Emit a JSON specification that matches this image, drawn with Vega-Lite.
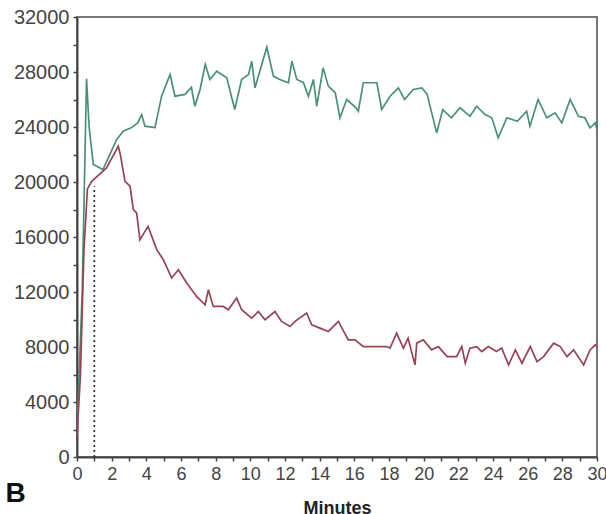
{
  "$schema": "https://vega.github.io/schema/vega-lite/v6.json",
  "width": 520,
  "height": 440,
  "autosize": "none",
  "padding": {"left": 77, "top": 17, "right": 9, "bottom": 57},
  "background": "white",
  "config": {
    "view": {"stroke": "#777", "strokeWidth": 2},
    "font": "Liberation Sans",
    "axis": {"grid": false, "domainColor": "#444", "domainWidth": 2, "tickColor": "#444", "tickWidth": 1.5, "tickSize": 4, "labelColor": "#444", "labelFont": "Liberation Sans", "labelOverlap": false}
  },
  "title": {"text": "B", "orient": "bottom", "anchor": "start", "frame": "bounds", "fontSize": 28, "fontWeight": "bold", "color": "#111", "offset": -37, "dx": -8},
  "datasets": {
    "series": [
      {"t": 0, "v": 1800, "s": "green"}, {"t": 0.3, "v": 12000, "s": "green"}, {"t": 0.55, "v": 27500, "s": "green"}, {"t": 0.7, "v": 24000, "s": "green"}, {"t": 0.94, "v": 21270, "s": "green"}, {"t": 1.5, "v": 20900, "s": "green"}, {"t": 2.29, "v": 23090, "s": "green"}, {"t": 2.67, "v": 23700, "s": "green"}, {"t": 3.15, "v": 23960, "s": "green"}, {"t": 3.5, "v": 24300, "s": "green"}, {"t": 3.73, "v": 24900, "s": "green"}, {"t": 3.92, "v": 24060, "s": "green"}, {"t": 4.5, "v": 23960, "s": "green"}, {"t": 4.88, "v": 26240, "s": "green"}, {"t": 5.37, "v": 27820, "s": "green"}, {"t": 5.65, "v": 26240, "s": "green"}, {"t": 6.23, "v": 26370, "s": "green"}, {"t": 6.6, "v": 26880, "s": "green"}, {"t": 6.8, "v": 25510, "s": "green"}, {"t": 7.1, "v": 26730, "s": "green"}, {"t": 7.4, "v": 28550, "s": "green"}, {"t": 7.67, "v": 27460, "s": "green"}, {"t": 8.06, "v": 28060, "s": "green"}, {"t": 8.64, "v": 27580, "s": "green"}, {"t": 9.1, "v": 25270, "s": "green"}, {"t": 9.5, "v": 27460, "s": "green"}, {"t": 9.9, "v": 27820, "s": "green"}, {"t": 10.08, "v": 28790, "s": "green"}, {"t": 10.27, "v": 26850, "s": "green"}, {"t": 10.95, "v": 29800, "s": "green"}, {"t": 11.33, "v": 27700, "s": "green"}, {"t": 11.7, "v": 27460, "s": "green"}, {"t": 12.2, "v": 27220, "s": "green"}, {"t": 12.4, "v": 28790, "s": "green"}, {"t": 12.68, "v": 27460, "s": "green"}, {"t": 13.06, "v": 27240, "s": "green"}, {"t": 13.35, "v": 26240, "s": "green"}, {"t": 13.64, "v": 27460, "s": "green"}, {"t": 13.83, "v": 25510, "s": "green"}, {"t": 14.2, "v": 28300, "s": "green"}, {"t": 14.5, "v": 26970, "s": "green"}, {"t": 14.9, "v": 26490, "s": "green"}, {"t": 15.17, "v": 24670, "s": "green"}, {"t": 15.56, "v": 26000, "s": "green"}, {"t": 16.1, "v": 25400, "s": "green"}, {"t": 16.23, "v": 25150, "s": "green"}, {"t": 16.52, "v": 27220, "s": "green"}, {"t": 17.3, "v": 27220, "s": "green"}, {"t": 17.58, "v": 25270, "s": "green"}, {"t": 18.06, "v": 26240, "s": "green"}, {"t": 18.54, "v": 26850, "s": "green"}, {"t": 18.9, "v": 26000, "s": "green"}, {"t": 19.4, "v": 26730, "s": "green"}, {"t": 19.9, "v": 26850, "s": "green"}, {"t": 20.2, "v": 26370, "s": "green"}, {"t": 20.75, "v": 23570, "s": "green"}, {"t": 21.1, "v": 25270, "s": "green"}, {"t": 21.6, "v": 24670, "s": "green"}, {"t": 22.1, "v": 25400, "s": "green"}, {"t": 22.67, "v": 24780, "s": "green"}, {"t": 23.06, "v": 25510, "s": "green"}, {"t": 23.54, "v": 24910, "s": "green"}, {"t": 23.93, "v": 24670, "s": "green"}, {"t": 24.3, "v": 23210, "s": "green"}, {"t": 24.8, "v": 24670, "s": "green"}, {"t": 25.4, "v": 24420, "s": "green"}, {"t": 25.94, "v": 25150, "s": "green"}, {"t": 26.13, "v": 24060, "s": "green"}, {"t": 26.6, "v": 26000, "s": "green"}, {"t": 27.1, "v": 24670, "s": "green"}, {"t": 27.58, "v": 25030, "s": "green"}, {"t": 27.97, "v": 24300, "s": "green"}, {"t": 28.45, "v": 26000, "s": "green"}, {"t": 28.93, "v": 24780, "s": "green"}, {"t": 29.3, "v": 24670, "s": "green"}, {"t": 29.6, "v": 23940, "s": "green"}, {"t": 29.9, "v": 24300, "s": "green"}, {"t": 30, "v": 23800, "s": "green"},
      {"t": 0, "v": 1500, "s": "red"}, {"t": 0.2, "v": 6000, "s": "red"}, {"t": 0.4, "v": 15000, "s": "red"}, {"t": 0.6, "v": 19500, "s": "red"}, {"t": 0.85, "v": 20050, "s": "red"}, {"t": 1.7, "v": 21020, "s": "red"}, {"t": 2.38, "v": 22600, "s": "red"}, {"t": 2.5, "v": 22000, "s": "red"}, {"t": 2.77, "v": 20050, "s": "red"}, {"t": 3.06, "v": 19690, "s": "red"}, {"t": 3.25, "v": 17990, "s": "red"}, {"t": 3.44, "v": 17750, "s": "red"}, {"t": 3.63, "v": 15800, "s": "red"}, {"t": 4.1, "v": 16770, "s": "red"}, {"t": 4.6, "v": 15080, "s": "red"}, {"t": 4.98, "v": 14350, "s": "red"}, {"t": 5.46, "v": 13020, "s": "red"}, {"t": 5.85, "v": 13620, "s": "red"}, {"t": 6.33, "v": 12650, "s": "red"}, {"t": 6.9, "v": 11680, "s": "red"}, {"t": 7.39, "v": 11070, "s": "red"}, {"t": 7.58, "v": 12160, "s": "red"}, {"t": 7.86, "v": 10950, "s": "red"}, {"t": 8.44, "v": 10950, "s": "red"}, {"t": 8.73, "v": 10710, "s": "red"}, {"t": 9.21, "v": 11560, "s": "red"}, {"t": 9.5, "v": 10710, "s": "red"}, {"t": 10.08, "v": 10100, "s": "red"}, {"t": 10.46, "v": 10580, "s": "red"}, {"t": 10.85, "v": 9980, "s": "red"}, {"t": 11.42, "v": 10580, "s": "red"}, {"t": 11.8, "v": 9860, "s": "red"}, {"t": 12.29, "v": 9490, "s": "red"}, {"t": 12.58, "v": 9860, "s": "red"}, {"t": 13.25, "v": 10470, "s": "red"}, {"t": 13.54, "v": 9610, "s": "red"}, {"t": 14.02, "v": 9370, "s": "red"}, {"t": 14.5, "v": 9130, "s": "red"}, {"t": 15.08, "v": 9860, "s": "red"}, {"t": 15.65, "v": 8520, "s": "red"}, {"t": 16.04, "v": 8520, "s": "red"}, {"t": 16.52, "v": 8030, "s": "red"}, {"t": 17.87, "v": 8030, "s": "red"}, {"t": 18.06, "v": 7920, "s": "red"}, {"t": 18.44, "v": 9010, "s": "red"}, {"t": 18.83, "v": 7920, "s": "red"}, {"t": 19.1, "v": 8640, "s": "red"}, {"t": 19.5, "v": 6700, "s": "red"}, {"t": 19.6, "v": 8280, "s": "red"}, {"t": 19.98, "v": 8520, "s": "red"}, {"t": 20.46, "v": 7790, "s": "red"}, {"t": 20.85, "v": 8030, "s": "red"}, {"t": 21.35, "v": 7300, "s": "red"}, {"t": 21.9, "v": 7300, "s": "red"}, {"t": 22.2, "v": 8030, "s": "red"}, {"t": 22.4, "v": 6820, "s": "red"}, {"t": 22.67, "v": 7920, "s": "red"}, {"t": 23.06, "v": 8030, "s": "red"}, {"t": 23.35, "v": 7670, "s": "red"}, {"t": 23.73, "v": 8030, "s": "red"}, {"t": 24.2, "v": 7670, "s": "red"}, {"t": 24.5, "v": 7920, "s": "red"}, {"t": 24.9, "v": 6700, "s": "red"}, {"t": 25.29, "v": 7790, "s": "red"}, {"t": 25.67, "v": 6820, "s": "red"}, {"t": 26.15, "v": 8030, "s": "red"}, {"t": 26.54, "v": 6940, "s": "red"}, {"t": 26.92, "v": 7300, "s": "red"}, {"t": 27.5, "v": 8280, "s": "red"}, {"t": 27.88, "v": 8030, "s": "red"}, {"t": 28.27, "v": 7300, "s": "red"}, {"t": 28.65, "v": 7790, "s": "red"}, {"t": 29.23, "v": 6700, "s": "red"}, {"t": 29.6, "v": 7790, "s": "red"}, {"t": 29.9, "v": 8160, "s": "red"}, {"t": 30, "v": 8000, "s": "red"}
    ],
    "marker": [{"t": 1, "v": 0, "v2": 19700}]
  },
  "encoding": {
    "x": {"field": "t", "type": "quantitative", "scale": {"domain": [0, 30], "nice": false},
      "axis": {"title": "Minutes", "titleFontSize": 18, "titleFontWeight": "bold", "titleColor": "#222", "titlePadding": 16,
        "values": [0,1,2,3,4,5,6,7,8,9,10,11,12,13,14,15,16,17,18,19,20,21,22,23,24,25,26,27,28,29,30],
        "labelExpr": "datum.value % 2 === 0 ? datum.label : ''", "labelFontSize": 18, "labelPadding": 4, "labelFlush": false, "labelOverlap": false}},
    "y": {"field": "v", "type": "quantitative", "scale": {"domain": [0, 32000], "nice": false},
      "axis": {"title": null, "format": "d",
        "values": [0,2000,4000,6000,8000,10000,12000,14000,16000,18000,20000,22000,24000,26000,28000,30000,32000],
        "labelExpr": "datum.value % 4000 === 0 ? datum.label : ''", "labelFontSize": 20, "labelPadding": 4, "labelFlush": false, "labelOverlap": false}}
  },
  "layer": [
    {
      "data": {"name": "series"},
      "mark": {"type": "line", "strokeWidth": 1.7, "clip": true},
      "encoding": {
        "color": {"field": "s", "type": "nominal", "scale": {"domain": ["green", "red"], "range": ["#4a9079", "#984354"]}, "legend": null},
        "order": {"field": "t", "type": "quantitative"}
      }
    },
    {
      "data": {"name": "marker"},
      "mark": {"type": "rule", "color": "#222", "strokeWidth": 1.6, "strokeDash": [2, 3]},
      "encoding": {
        "y2": {"field": "v2"}
      }
    }
  ]
}
